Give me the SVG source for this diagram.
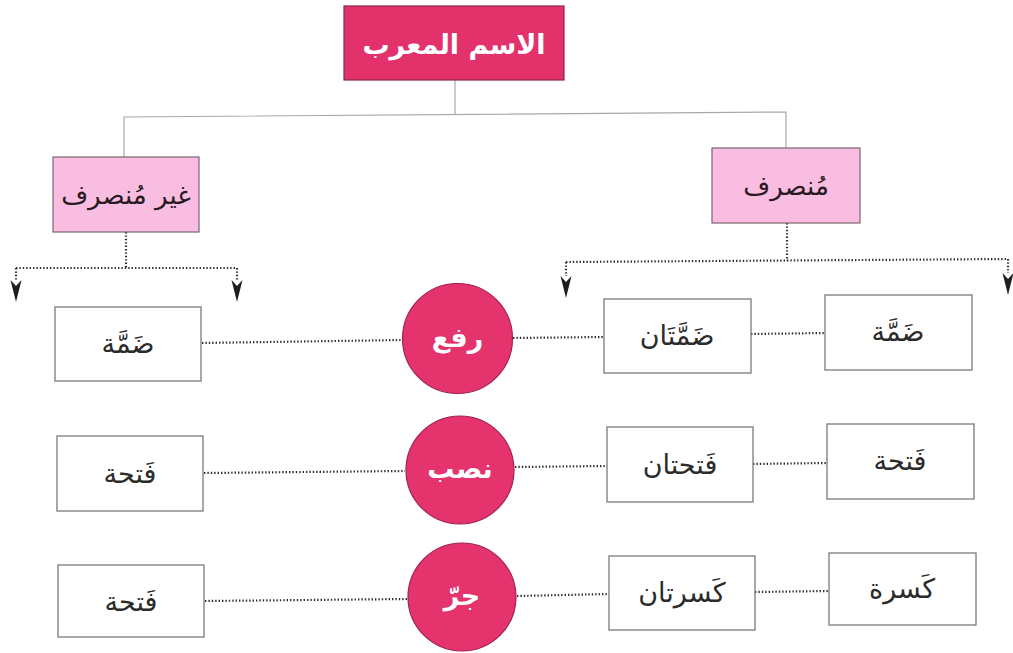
<svg xmlns="http://www.w3.org/2000/svg" width="1013" height="653" viewBox="0 0 1013 653">
<style>
  .bg { fill: #ffffff; }
  .root { fill: #e2316b; stroke: #8a2a48; stroke-width: 1.2; }
  .cat { fill: #f8bde0; stroke: #7a6670; stroke-width: 1.2; }
  .box { fill: #ffffff; stroke: #7a7a7a; stroke-width: 1.3; }
  .case { fill: #e5336d; stroke: #a0244d; stroke-width: 1.2; }
  .solid { fill: none; stroke: #a8a8a8; stroke-width: 1.2; }
  .dot { fill: none; stroke: #2e2e2e; stroke-width: 2.2; stroke-dasharray: 1.4 2; }
  text { font-family: "DejaVu Sans", "Noto Sans", sans-serif; text-anchor: middle; dominant-baseline: central; direction: rtl; }
  .t-root { fill: #ffffff; font-size: 27px; font-weight: bold; }
  .t-cat { fill: #2a1a22; font-size: 26px; }
  .t-box { fill: #2b2b2b; font-size: 27px; }
  .t-case { fill: #ffffff; font-size: 27px; font-weight: bold; }
</style>
<defs>
  <marker id="arrdown" markerUnits="userSpaceOnUse" markerWidth="14" markerHeight="26" viewBox="0 0 14 26" refX="7" refY="2" orient="0">
    <path d="M1.5,2 L7,8 L12.5,2 L7,24 Z" fill="#1e1e1e"/>
  </marker>
</defs>
<rect class="bg" x="0" y="0" width="1013" height="653"/>

<g id="connectors">
  <path class="solid" d="M455,80 L455,115"/>
  <path class="solid" d="M124,157 L124,117 L786,112 L786,148"/>
  <path class="dot" d="M126,232 L126,268"/>
  <path class="dot" d="M16,268 L237,268"/>
  <path class="dot" d="M16,268 L16,280" marker-end="url(#arrdown)"/>
  <path class="dot" d="M237,268 L237,280" marker-end="url(#arrdown)"/>
  <path class="dot" d="M787,223 L787,261"/>
  <path class="dot" d="M566,262 L1008,259"/>
  <path class="dot" d="M566,262 L566,276" marker-end="url(#arrdown)"/>
  <path class="dot" d="M1008,259 L1008,273" marker-end="url(#arrdown)"/>
  <path class="dot" d="M202,343 L402,340"/>
  <path class="dot" d="M513,338 L604,337"/>
  <path class="dot" d="M751,334 L825,333"/>
  <path class="dot" d="M204,473 L405,471"/>
  <path class="dot" d="M515,467 L607,466"/>
  <path class="dot" d="M753,464 L827,463"/>
  <path class="dot" d="M205,601 L407,599"/>
  <path class="dot" d="M517,596 L609,594"/>
  <path class="dot" d="M755,592 L829,591"/>
</g>

<g id="node-root">
  <rect class="root" x="344" y="6" width="220" height="74"/>
  <text class="t-root" x="454" y="44">الاسم المعرب</text>
</g>
<g id="node-ghayr-munsarif">
  <rect class="cat" x="53" y="157" width="146" height="75"/>
  <text class="t-cat" x="126" y="195">غير مُنصرف</text>
</g>
<g id="node-munsarif">
  <rect class="cat" x="712" y="148" width="148" height="75"/>
  <text class="t-cat" x="786" y="186">مُنصرف</text>
</g>

<g id="node-case-raf">
  <circle class="case" cx="457.5" cy="338.5" r="55"/>
  <text class="t-case" x="457.5" y="337">رفع</text>
</g>
<g id="node-case-nasb">
  <circle class="case" cx="460" cy="470" r="54"/>
  <text class="t-case" x="460" y="468">نصب</text>
</g>
<g id="node-case-jarr">
  <circle class="case" cx="462" cy="597" r="54"/>
  <text class="t-case" x="462" y="595">جرّ</text>
</g>

<g id="node-gm-damma">
  <rect class="box" x="55" y="307" width="146" height="74"/>
  <text class="t-box" x="128" y="343">ضَمَّة</text>
</g>
<g id="node-gm-fatha1">
  <rect class="box" x="57" y="436" width="146" height="75"/>
  <text class="t-box" x="130" y="473">فَتحة</text>
</g>
<g id="node-gm-fatha2">
  <rect class="box" x="58" y="565" width="146" height="72"/>
  <text class="t-box" x="131" y="601">فَتحة</text>
</g>

<g id="node-m-dammatan">
  <rect class="box" x="604" y="299" width="147" height="74"/>
  <text class="t-box" x="677" y="335">ضَمَّتَان</text>
</g>
<g id="node-m-fathatan">
  <rect class="box" x="607" y="427" width="146" height="75"/>
  <text class="t-box" x="680" y="464">فَتحتان</text>
</g>
<g id="node-m-kasratan">
  <rect class="box" x="609" y="556" width="146" height="74"/>
  <text class="t-box" x="682" y="592">كَسرتان</text>
</g>

<g id="node-m-damma">
  <rect class="box" x="825" y="295" width="147" height="75"/>
  <text class="t-box" x="898" y="331">ضَمَّة</text>
</g>
<g id="node-m-fatha">
  <rect class="box" x="827" y="424" width="147" height="75"/>
  <text class="t-box" x="900" y="460">فَتحة</text>
</g>
<g id="node-m-kasra">
  <rect class="box" x="829" y="553" width="147" height="72"/>
  <text class="t-box" x="902" y="588">كَسرة</text>
</g>
</svg>
